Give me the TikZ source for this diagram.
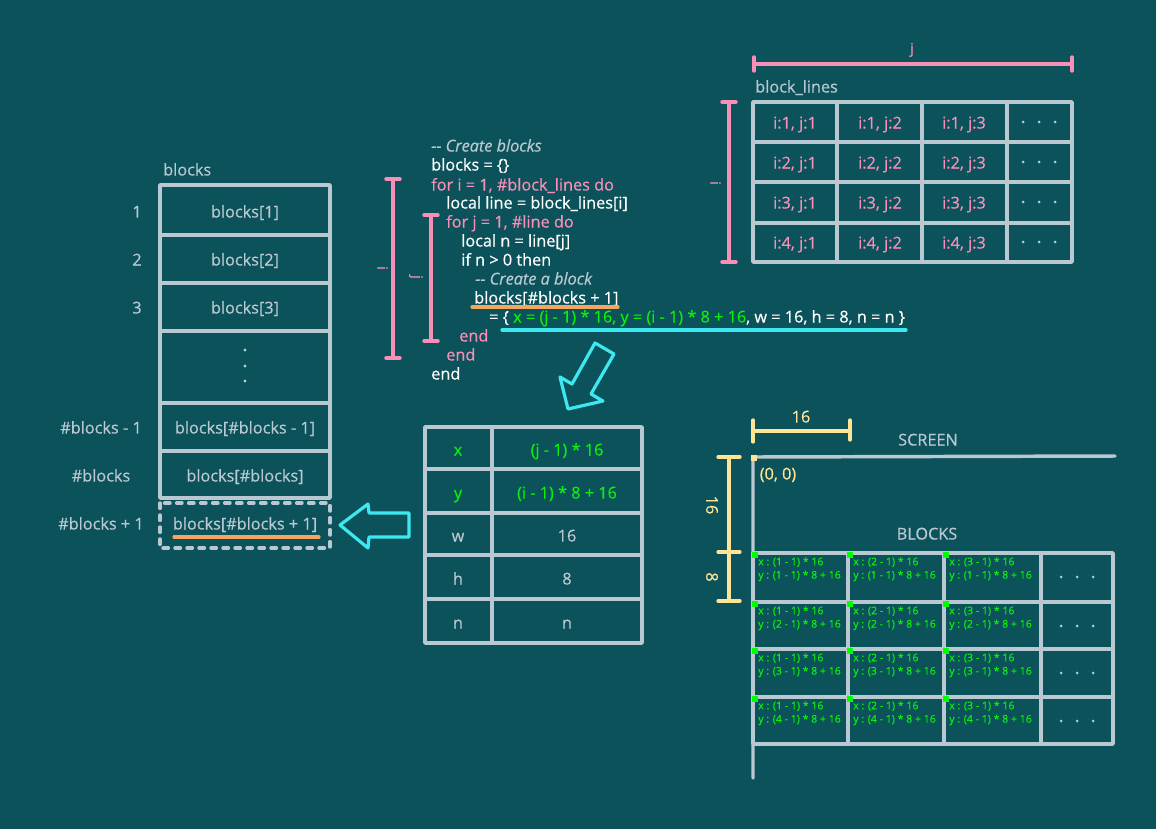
\documentclass[tikz,border=0pt]{standalone}
\usepackage{fontspec}
\setmainfont{Open Sans}[FakeBold=0.5]
\definecolor{bg}{RGB}{11,82,90}
\definecolor{gline}{RGB}{186,200,209}
\definecolor{pinkc}{RGB}{247,143,185}
\definecolor{greenc}{RGB}{10,240,10}
\definecolor{gsq}{RGB}{0,255,0}
\definecolor{cyanc}{RGB}{62,232,240}
\definecolor{orangec}{RGB}{245,165,95}
\definecolor{yellowc}{RGB}{255,228,150}
\begin{document}
\begin{tikzpicture}[x=0.75pt,y=-0.75pt,
  gl/.style={draw=gline,line width=2.6pt,line cap=round,line join=round},
  t/.style={inner sep=0pt,font=\fontsize{12.2}{14}\selectfont,anchor=mid,yshift=-2.2pt},
  gt/.style={t,text=gline},
  code/.style={t,anchor=mid west},
  brk/.style={draw=pinkc,line width=2.6pt,line cap=round},
  ylw/.style={draw=yellowc,line width=2.4pt,line cap=round},
  uline/.style={line width=2.4pt,line cap=round},
  bigarrow/.style={draw=cyanc,line width=2.4pt,line join=round},
  small/.style={inner sep=0pt,font=\fontsize{7.9}{10}\selectfont,text=greenc,align=left,anchor=north west},
  plabel/.style={inner sep=0pt,font=\fontsize{10.5}{12}\selectfont,text=pinkc,rotate=-90,anchor=mid}
]
\fill[bg] (0,0) rectangle (1156,829);
\useasboundingbox (0,0) rectangle (1156,829);

% ---------------- left: blocks column ----------------
\node[gt,anchor=mid west] (blockslbl) at (163,169) {blocks};
\draw[gl] (160,185) rectangle (330,498);
\foreach \yy in {235,283,331,403,451}{\draw[gl] (160,\yy) -- (330,\yy);}
\node[gt] (b1) at (245,211) {blocks[1]};
\node[gt] (b2) at (245,259) {blocks[2]};
\node[gt] (b3) at (245,307) {blocks[3]};
\foreach \yy in {350,366,381}{\fill[gline] (245,\yy) circle (1.6);}
\node[gt] (bm1) at (245,427) {blocks[\#blocks - 1]};
\node[gt] (bn) at (245,475) {blocks[\#blocks]};
\draw[gl,dash pattern=on 4pt off 5pt] (160,503) rectangle (330,548);
\node[gt] (bp1) at (245,523) {blocks[\#blocks + 1]};
\draw[uline,draw=orangec] (174,537) -- (319,537);
\node[gt] (i1) at (137,211) {1};
\node[gt] (i2) at (137,259) {2};
\node[gt] (i3) at (137,307) {3};
\node[gt] (im1) at (101,427) {\#blocks - 1};
\node[gt] (in) at (101,475) {\#blocks};
\node[gt] (ip1) at (101,523) {\#blocks + 1};

% left-pointing arrow
\draw[bigarrow] (340,525) -- (368,504) -- (369,513) -- (409,513) -- (409,537) -- (369,537) -- (368,548) -- cycle;

% ---------------- code ----------------
\draw[brk] (393,179) -- (393,358);
\draw[brk] (386,179) -- (400,179);
\draw[brk] (386,358) -- (400,358);
\node[plabel] (ilbl) at (381,268) {i};
\draw[brk] (431,215) -- (431,341);
\draw[brk] (424,215) -- (438,215);
\draw[brk] (424,341) -- (438,341);
\node[plabel] (jlbl) at (416,277) {j};

\node[code,text=gline] (c0) at (431,145) {\itshape -{}- Create blocks};
\node[code,text=white] (c1) at (431,164) {blocks = \{\}};
\node[code,text=pinkc] (c2) at (431,184) {for i = 1, \#block\_lines do};
\node[code,text=white] (c3) at (446,202) {local line = block\_lines[i]};
\node[code,text=pinkc] (c4) at (446,221) {for j = 1, \#line do};
\node[code,text=white] (c5) at (461,240) {local n = line[j]};
\node[code,text=white] (c6) at (461,259) {if n > 0 then};
\node[code,text=gline] (c7) at (475,278) {\itshape -{}- Create a block};
\node[code,text=white] (c8) at (474,297) {blocks[\#blocks + 1]};
\node[code,text=white] (c9) at (489,316) {= \{ {\color{greenc}x = (j - 1) * 16, y = (i - 1) * 8 + 16}, w = 16, h = 8, n = n \}};
\node[code,text=pinkc] (c10) at (459,335) {end};
\node[code,text=pinkc] (c11) at (446,354) {end};
\node[code,text=white] (c12) at (431,373) {end};
\draw[uline,draw=orangec] (472,307) -- (618,307);
\draw[uline,draw=cyanc] (502,330) -- (906,330);

% down-left arrow
\draw[bigarrow] (568,409) -- (560,377) -- (572,384) -- (595,343) -- (614,354) -- (591,394) -- (603,401) -- cycle;

% ---------------- middle table ----------------
\draw[gl] (425,427) rectangle (642,643);
\draw[gl] (492,427) -- (492,643);
\foreach \yy in {469,513,555,599}{\draw[gl] (425,\yy) -- (642,\yy);}
\node[t,text=greenc] (kx) at (458,449) {x};
\node[t,text=greenc] (vx) at (567,449) {(j - 1) * 16};
\node[t,text=greenc] (ky) at (458,492) {y};
\node[t,text=greenc] (vy) at (567,492) {(i - 1) * 8 + 16};
\node[gt] (kw) at (458,535) {w};
\node[gt] (vw) at (567,535) {16};
\node[gt] (kh) at (458,578) {h};
\node[gt] (vh) at (567,578) {8};
\node[gt] (kn) at (458,622) {n};
\node[gt] (vn) at (567,622) {n};

% ---------------- block_lines ----------------
\node[gt,anchor=mid west] (bllbl) at (755,86) {block\_lines};
\draw[brk] (754,64) -- (1072,64);
\draw[brk] (754,57) -- (754,71);
\draw[brk] (1072,57) -- (1072,71);
\node[inner sep=0pt,font=\fontsize{10.5}{12}\selectfont,text=pinkc] (jtop) at (912,50) {j};
\draw[brk] (729,102) -- (729,262);
\draw[brk] (722,102) -- (736,102);
\draw[brk] (722,262) -- (736,262);
\node[plabel] (iside) at (714,183) {i};
\draw[gl] (753,102) rectangle (1072,262);
\foreach \xx in {837,922,1007}{\draw[gl] (\xx,102) -- (\xx,262);}
\foreach \yy in {142,182,223}{\draw[gl] (753,\yy) -- (1072,\yy);}
\foreach \r/\yy in {1/122,2/162,3/202,4/242}{
  \foreach \c/\xx in {1/795,2/880,3/964}{
    \node[t,text=pinkc] (bl\r\c) at (\xx,\yy) {i:\r, j:\c};
  }
  \foreach \xx in {1023,1039,1055}{\fill[gline] (\xx,\yy) circle (1.5);}
}

% ---------------- screen ----------------
\draw[ylw] (753,431) -- (850,431);
\draw[ylw] (753,420) -- (753,442);
\draw[ylw] (850,420) -- (850,440);
\node[t,text=yellowc] (w16) at (801,416) {16};
\node[gt] (screen) at (928,439) {SCREEN};
\draw[gl] (1115,456) -- (753,457) -- (753,778);
\fill[yellowc] (751,455) rectangle (757,461);
\node[t,text=yellowc] (origin) at (778,473) {(0, 0)};
\draw[ylw] (729,457) -- (729,601);
\foreach \yy in {457,552,601}{\draw[ylw] (718,\yy) -- (740,\yy);}
\node[inner sep=0pt,font=\fontsize{12.2}{14}\selectfont,text=yellowc,rotate=-90] (h16) at (712,505) {16};
\node[inner sep=0pt,font=\fontsize{12.2}{14}\selectfont,text=yellowc,rotate=-90] (h8) at (712,577) {8};
\node[gt] (blockst) at (927,533) {BLOCKS};

\draw[gl] (753,553) rectangle (1113,744);
\foreach \xx in {848,944,1041}{\draw[gl] (\xx,553) -- (\xx,744);}
\foreach \yy in {602,649,697}{\draw[gl] (753,\yy) -- (1113,\yy);}
\foreach \r/\yy in {1/553,2/602,3/649,4/697}{
  \foreach \c/\xx in {1/753,2/848,3/944}{
    \node[small] (g\r\c) at (\xx+5,\yy+4) {x : (\c\ - 1) * 16\\y : (\r\ - 1) * 8 + 16};
    \fill[gsq] (\xx-1,\yy-1) rectangle (\xx+5,\yy+5);
  }
  \foreach \xx in {1061,1077,1093}{\fill[gline] (\xx,\yy+24) circle (1.5);}
}
\end{tikzpicture}
\end{document}
